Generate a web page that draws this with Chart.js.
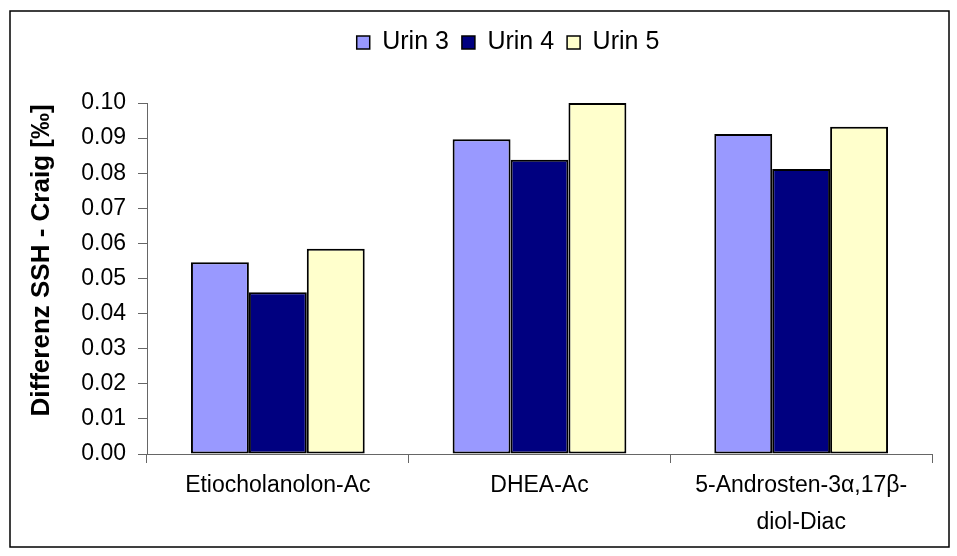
<!DOCTYPE html>
<html>
<head>
<meta charset="utf-8">
<script src="https://cdn.jsdelivr.net/npm/chart.js@4/dist/chart.umd.min.js"></script>
<style>
  html, body { margin: 0; padding: 0; background: #fff; }
  #wrap { width: 957px; height: 556px; position: relative; }
</style>
</head>
<body>
<div id="wrap"><canvas id="c" width="957" height="556"></canvas></div>
<script>
'use strict';

/* ── Daten ── */
const categories = ['Etiocholanolon-Ac', 'DHEA-Ac', ['5-Androsten-3α,17β-', 'diol-Diac']];
const urin3 = [0.0546, 0.0897, 0.0912];
const urin4 = [0.0461, 0.0838, 0.0812];
const urin5 = [0.0585, 0.1000, 0.0932];
const seriesNames = ['Urin 3', 'Urin 4', 'Urin 5'];
const seriesColors = ['#9999FF', '#000080', '#FFFFCC'];
const yTicks = [0, 0.01, 0.02, 0.03, 0.04, 0.05, 0.06, 0.07, 0.08, 0.09, 0.10];

const FONT = "'Liberation Sans', Arial, sans-serif";

/* ── Rahmen + Legende etwas nach rechts (wie im Excel-Original) ── */
const framePlugin = {
  id: 'frame',
  beforeDraw(chart) {
    const lg = chart.legend;
    if (lg && !lg._shifted) { lg.left += 42; lg.right += 42; lg._shifted = true; }
  },
  afterDraw(chart) {
    const ctx = chart.ctx;
    ctx.save();
    ctx.strokeStyle = '#000';
    ctx.lineWidth = 1.5;
    ctx.strokeRect(10, 11, 939, 536);
    ctx.restore();
  }
};

const mkSet = (name, data, color) => ({
  label: name, data, backgroundColor: color,
  borderColor: '#000', borderWidth: 2, borderSkipped: false,
  categoryPercentage: 0.664, barPercentage: 1.0
});

new Chart(document.getElementById('c'), {
  type: 'bar',
  data: {
    labels: categories,
    datasets: [
      mkSet(seriesNames[0], urin3, seriesColors[0]),
      mkSet(seriesNames[1], urin4, seriesColors[1]),
      mkSet(seriesNames[2], urin5, seriesColors[2])
    ]
  },
  options: {
    responsive: false,
    animation: false,
    devicePixelRatio: 1,
    layout: { padding: { left: 0, right: 25, top: 17, bottom: 0 } },
    plugins: {
      tooltip: { enabled: false },
      legend: {
        position: 'top',
        labels: {
          boxWidth: 13, boxHeight: 13, padding: 13,
          color: '#000', font: { family: FONT, size: 25 },
          generateLabels: chart => chart.data.datasets.map((ds, i) => ({
            text: ds.label, fillStyle: ds.backgroundColor, strokeStyle: '#000',
            lineWidth: 1.5, hidden: false, datasetIndex: i
          }))
        }
      },
      // leerer Untertitel als Abstandhalter zwischen Legende und Plot
      subtitle: { display: true, text: '', weight: 500, position: 'top', font: { size: 10 }, padding: { top: 0, bottom: 26 } }
    },
    scales: {
      x: {
        grid: { display: true, offset: true, drawOnChartArea: false, drawTicks: true, tickLength: 9, color: '#666', lineWidth: 1 },
        border: { display: true, color: '#666', width: 1 },
        ticks: { color: '#000', padding: 4, maxRotation: 0, autoSkip: false, font: { family: FONT, size: 23, lineHeight: 1.6 } },
        afterFit: s => { s.height = 556 - 454; }
      },
      y: {
        min: 0, max: 0.10,
        afterBuildTicks: s => { s.ticks = yTicks.map(v => ({ value: v })); },
        grid: { display: true, drawOnChartArea: false, drawTicks: true, tickLength: 9, color: '#666', lineWidth: 1 },
        border: { display: true, color: '#666', width: 1 },
        ticks: { color: '#000', padding: 12, font: { family: FONT, size: 23 }, callback: v => Number(v).toFixed(2) },
        // führende Leerzeichen schieben den Titel etwas nach oben, wie im Original
        title: { display: true, text: '\u00A0\u00A0\u00A0\u00A0\u00A0Differenz SSH - Craig [‰]', color: '#000', padding: { top: 26, bottom: 0 }, font: { family: FONT, size: 26, weight: 'bold' } },
        afterFit: s => { s.width = 147; }
      }
    }
  },
  plugins: [framePlugin]
});
</script>
</body>
</html>
